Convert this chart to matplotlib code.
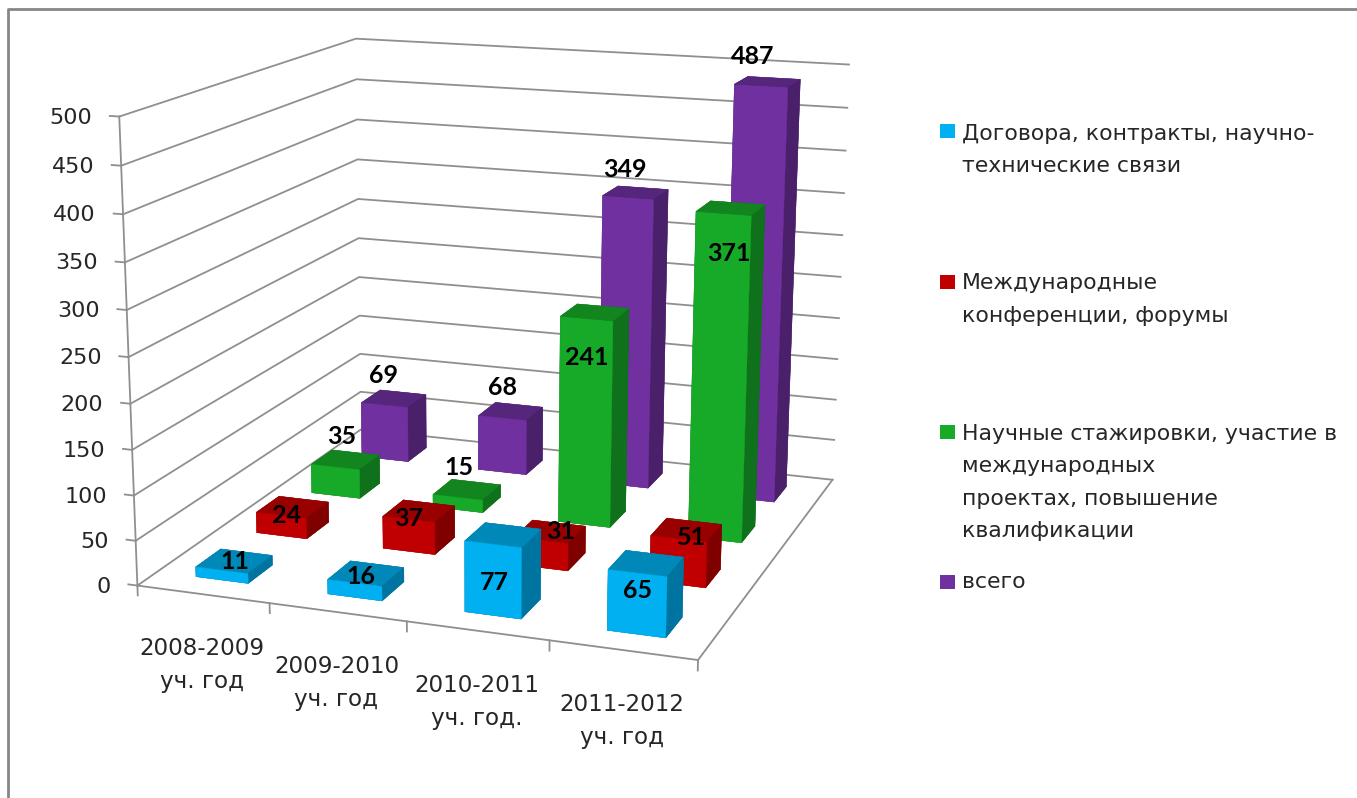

import numpy as np, matplotlib
matplotlib.use('Agg')
import matplotlib.pyplot as plt
from matplotlib.lines import Line2D
from matplotlib.patches import Rectangle
from matplotlib.transforms import IdentityTransform

W, H = 1357, 798
categories = ['2008-2009\nуч. год', '2009-2010\nуч. год', '2010-2011\nуч. год.', '2011-2012\nуч. год']
contracts = [11, 16, 77, 65]
conferences = [24, 37, 31, 51]
internships = [35, 15, 241, 371]
total = [69, 68, 349, 487]
z_ticks = [0, 50, 100, 150, 200, 250, 300, 350, 400, 450, 500]
series_names = ['Договора, контракты, научно-\nтехнические связи', 'Международные\nконференции, форумы',
                'Научные стажировки, участие в\nмеждународных\nпроектах, повышение\nквалификации', 'всего']
series_values = [contracts, conferences, internships, total]

front = ['#00B0F0', '#C00000', '#17A928', '#7030A0']
side = ['#0074A0', '#800000', '#0F711B', '#4A206B']
top = ['#0088B8', '#990000', '#13851F', '#56257C']
GRID = '#8f8f8f'
TEXT = '#262626'

# pixel nudges of the data labels from the top-front centre of each bar (right, up)
LABEL_NUDGE = [[(13, 9), (6, 6), (1, -38), (0, -17)], [(5, 0), (0, 1), (20, 9), (13, 1)],
               [(6, 31), (1, 30), (0, -39), (5, -40)], [(-1, 30), (0, 31), (-3, 28), (-8, 29)]]

fig = plt.figure(figsize=(W/100, H/100), dpi=100, facecolor='white')
ax = fig.add_subplot(projection='3d', computed_zorder=False)
ax.set_xlim(0, 4); ax.set_ylim(0, 4); ax.set_zlim(0, 500)
ax.view_init(14.73836, -70.53619, -0.17673)
ax.set_proj_type('persp', focal_length=float(np.exp(-0.65524)))
ax.set_box_aspect((np.exp(0.15604), np.exp(0.15211), 1), zoom=1)
sx, tx, sy, ty = 4815.105, 507.758, -4608.404, 314.375
ax.apply_aspect = lambda position=None: None
l, r = tx + sx*(-0.095), tx + sx*0.09
b, t = ty + sy*(-0.095), ty + sy*0.09
ax.set_position([l/W, 1-b/H, (r-l)/W, (b-t)/H])
ax.set_axis_off()
ax.patch.set_alpha(0)


def display_xy(x, y, z):
    q = ax.get_proj() @ np.array([x, y, z, 1.0])
    return ax.transData.transform((q[0]/q[3], q[1]/q[3]))


def label(x, y, z, s, dx, dy, **kw):
    px, py = display_xy(x, y, z)
    fig.text(px+dx, py+dy, s, transform=IdentityTransform(), ha=kw.pop('ha', 'center'), va='center', **kw)


line_kw = dict(color=GRID, lw=1.3, zorder=1, clip_on=False)
for z in z_ticks:
    ax.plot([0, 0, 4], [0, 4, 4], [z, z, z], **line_kw)
    ax.plot([0, -0.07], [0, 0], [z, z], **line_kw)
    label(0, 0, z, str(z), -27, -1, ha='right', fontsize=16, color=TEXT, family='DejaVu Sans')
ax.plot([0, 0], [0, 0], [0, 500], **line_kw)
ax.plot([0, 4, 4], [0, 0, 4], [0, 0, 0], **line_kw)
for i in range(len(categories)+1):
    ax.plot([i, i], [0, 0], [0, -11], **line_kw)
for i, c in enumerate(categories):
    label(i+.5, 0, 0, c, -1, -71, fontsize=16.6, linespacing=1.58, color=TEXT, family='DejaVu Sans')

GAP = 0.3
zo = 10
for s in range(3, -1, -1):
    for i, v in enumerate(series_values[s]):
        cols = [side[s], top[s], front[s], side[s], side[s], side[s]]
        c = ax.bar3d(i+GAP, s+GAP, 0, 1-2*GAP, 1-2*GAP, v, color=cols, shade=False, edgecolor=cols, linewidth=0.3)
        c.set_zorder(zo); c.set_clip_on(False); zo += 1
ax.set_xlim(0, 4); ax.set_ylim(0, 4); ax.set_zlim(0, 500)

for s in range(4):
    for i, v in enumerate(series_values[s]):
        dx, dy = LABEL_NUDGE[s][i]
        label(i+.5, s+GAP, v, str(v), dx, dy, fontsize=18, fontweight='bold', family='Lato', color='black')

for s, (name, ym, yc) in enumerate(zip(series_names, [131, 282, 432, 582], [150, 299.5, 482.5, 582.5])):
    fig.add_artist(Rectangle((940/W, 1-(ym+7)/H), 15/W, 14/H, transform=fig.transFigure, facecolor=front[s], edgecolor='none'))
    fig.text(962/W, 1-yc/H, name, ha='left', va='center', fontsize=15.8, color=TEXT, linespacing=1.79, family='DejaVu Sans')

fig.add_artist(Line2D([8/W, 8/W, 1], [0, 1-9/H, 1-9/H], transform=fig.transFigure, color='#868686', lw=2))
fig.savefig('out.png', dpi=100)
